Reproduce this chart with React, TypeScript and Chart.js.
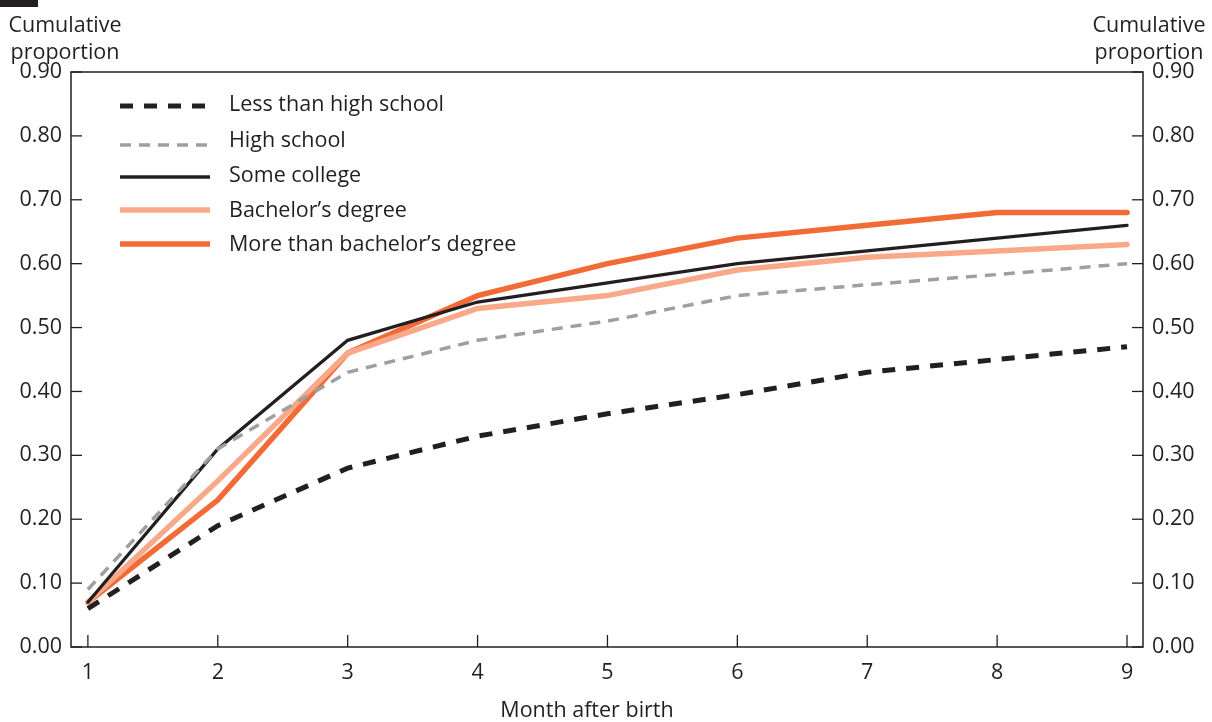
import { useEffect, useRef } from "react";
import { Chart, registerables } from "chart.js";

Chart.register(...registerables);

const months = [1, 2, 3, 4, 5, 6, 7, 8, 9];
const yTickValues = [0, 0.1, 0.2, 0.3, 0.4, 0.5, 0.6, 0.7, 0.8, 0.9];

const lessThanHighSchool = [0.06, 0.19, 0.28, 0.33, 0.365, 0.395, 0.43, 0.45, 0.47];
const highSchool = [0.09, 0.31, 0.43, 0.48, 0.51, 0.55, 0.567, 0.583, 0.6];
const someCollege = [0.07, 0.31, 0.48, 0.54, 0.57, 0.6, 0.62, 0.64, 0.66];
const bachelors = [0.07, 0.26, 0.46, 0.53, 0.55, 0.59, 0.61, 0.62, 0.63];
const moreThanBachelors = [0.07, 0.23, 0.46, 0.55, 0.6, 0.64, 0.66, 0.68, 0.68];

const seriesLabels = [
  "Less than high school",
  "High school",
  "Some college",
  "Bachelor\u2019s degree",
  "More than bachelor\u2019s degree",
];

const INK = "#231f20";
const FONT = "'Open Sans', sans-serif";
const FONT_SIZE = 21.5;

const seriesStyles = [
  { color: "#231f20", width: 5, dash: [13, 11] },
  { color: "#9d9fa2", width: 3.5, dash: [11, 8] },
  { color: "#231f20", width: 3.3, dash: [] as number[] },
  { color: "#f9a98a", width: 5.5, dash: [] as number[] },
  { color: "#f26a36", width: 5.5, dash: [] as number[] },
];

const seriesValues = [lessThanHighSchool, highSchool, someCollege, bachelors, moreThanBachelors];

const decorPlugin = {
  id: "decor",
  afterDraw(chart: any) {
    const { ctx, chartArea: a, scales } = chart;
    ctx.save();
    ctx.strokeStyle = INK;
    ctx.lineWidth = 1.5;
    ctx.setLineDash([]);
    ctx.strokeRect(a.left, a.top, a.right - a.left, a.bottom - a.top);
    ctx.lineWidth = 1.3;
    const line = (x1: number, y1: number, x2: number, y2: number) => {
      ctx.beginPath();
      ctx.moveTo(x1, y1);
      ctx.lineTo(x2, y2);
      ctx.stroke();
    };
    for (const v of yTickValues) {
      const y = scales.y.getPixelForValue(v);
      line(a.left, y, a.left + 11, y);
      line(a.right - 11, y, a.right, y);
    }
    for (const m of months) {
      const x = scales.x.getPixelForValue(m);
      line(x, a.bottom, x, a.bottom - 12);
    }
    ctx.fillStyle = INK;
    ctx.fillRect(0, 0, 38, 7);
    ctx.font = `${FONT_SIZE}px ${FONT}`;
    ctx.textAlign = "center";
    ctx.textBaseline = "alphabetic";
    ctx.fillText("Cumulative", 65, 32);
    ctx.fillText("proportion", 65, 59);
    ctx.fillText("Cumulative", 1149, 32);
    ctx.fillText("proportion", 1149, 59);
    ctx.fillText("Month after birth", 587, 717);
    const lineYs = [106, 145, 177, 210, 244];
    const textYs = [105, 141, 176, 211, 245];
    chart.data.datasets.forEach((ds: any, i: number) => {
      ctx.strokeStyle = ds.borderColor;
      ctx.lineWidth = ds.borderWidth;
      ctx.setLineDash(ds.borderDash || []);
      ctx.lineCap = "butt";
      line(120, lineYs[i], 210, lineYs[i]);
      ctx.setLineDash([]);
      ctx.fillStyle = INK;
      ctx.textAlign = "left";
      ctx.textBaseline = "middle";
      ctx.fillText(ds.label, 229, textYs[i]);
    });
    ctx.restore();
  },
};

export default function App() {
  const ref = useRef<HTMLCanvasElement>(null);
  useEffect(() => {
    if (!ref.current) return;
    const datasets = seriesValues.map((vals, i) => ({
      label: seriesLabels[i],
      data: months.map((m, j) => ({ x: m, y: vals[j] })),
      borderColor: seriesStyles[i].color,
      backgroundColor: seriesStyles[i].color,
      borderWidth: seriesStyles[i].width,
      borderDash: seriesStyles[i].dash,
      borderJoinStyle: "miter" as const,
      borderCapStyle: (seriesStyles[i].dash.length ? "butt" : "round") as any,
      pointRadius: 0,
      tension: 0,
      fill: false,
    }));
    const tickFont = { family: FONT, size: FONT_SIZE };
    const yCommon = {
      type: "linear" as const,
      min: 0,
      max: 0.9,
      grid: { display: false, drawTicks: false },
      border: { display: false },
      afterBuildTicks: (s: any) => {
        s.ticks = yTickValues.map((v) => ({ value: v }));
      },
    };
    const chart = new Chart(ref.current, {
      type: "line",
      data: { datasets },
      plugins: [decorPlugin],
      options: {
        animation: false,
        responsive: false,
        maintainAspectRatio: false,
        layout: { padding: { top: 72, left: 0, right: 0, bottom: 0 } },
        plugins: { legend: { display: false }, tooltip: { enabled: false } },
        scales: {
          x: {
            type: "linear",
            min: 0.87,
            max: 9.123,
            grid: { display: false, drawTicks: false },
            border: { display: false },
            afterBuildTicks: (s: any) => {
              s.ticks = months.map((v) => ({ value: v }));
            },
            afterFit: (s: any) => {
              s.height = 75;
            },
            ticks: { font: tickFont, color: INK, padding: 13, maxRotation: 0, callback: (v: any) => String(v) },
          },
          y: {
            ...yCommon,
            position: "left",
            afterFit: (s: any) => {
              s.width = 71;
            },
            ticks: { font: tickFont, color: INK, padding: 9, callback: (v: any) => Number(v).toFixed(2) },
          },
          y2: {
            ...yCommon,
            position: "right",
            afterFit: (s: any) => {
              s.width = 69;
            },
            ticks: { font: tickFont, color: INK, padding: 9, callback: (v: any) => Number(v).toFixed(2) },
          },
        },
      } as any,
    });
    return () => chart.destroy();
  }, []);
  return (
    <div style={{ position: "absolute", left: 0, top: 0, width: 1212, height: 722 }}>
      <canvas ref={ref} width={1212} height={722} style={{ width: 1212, height: 722 }} />
    </div>
  );
}
